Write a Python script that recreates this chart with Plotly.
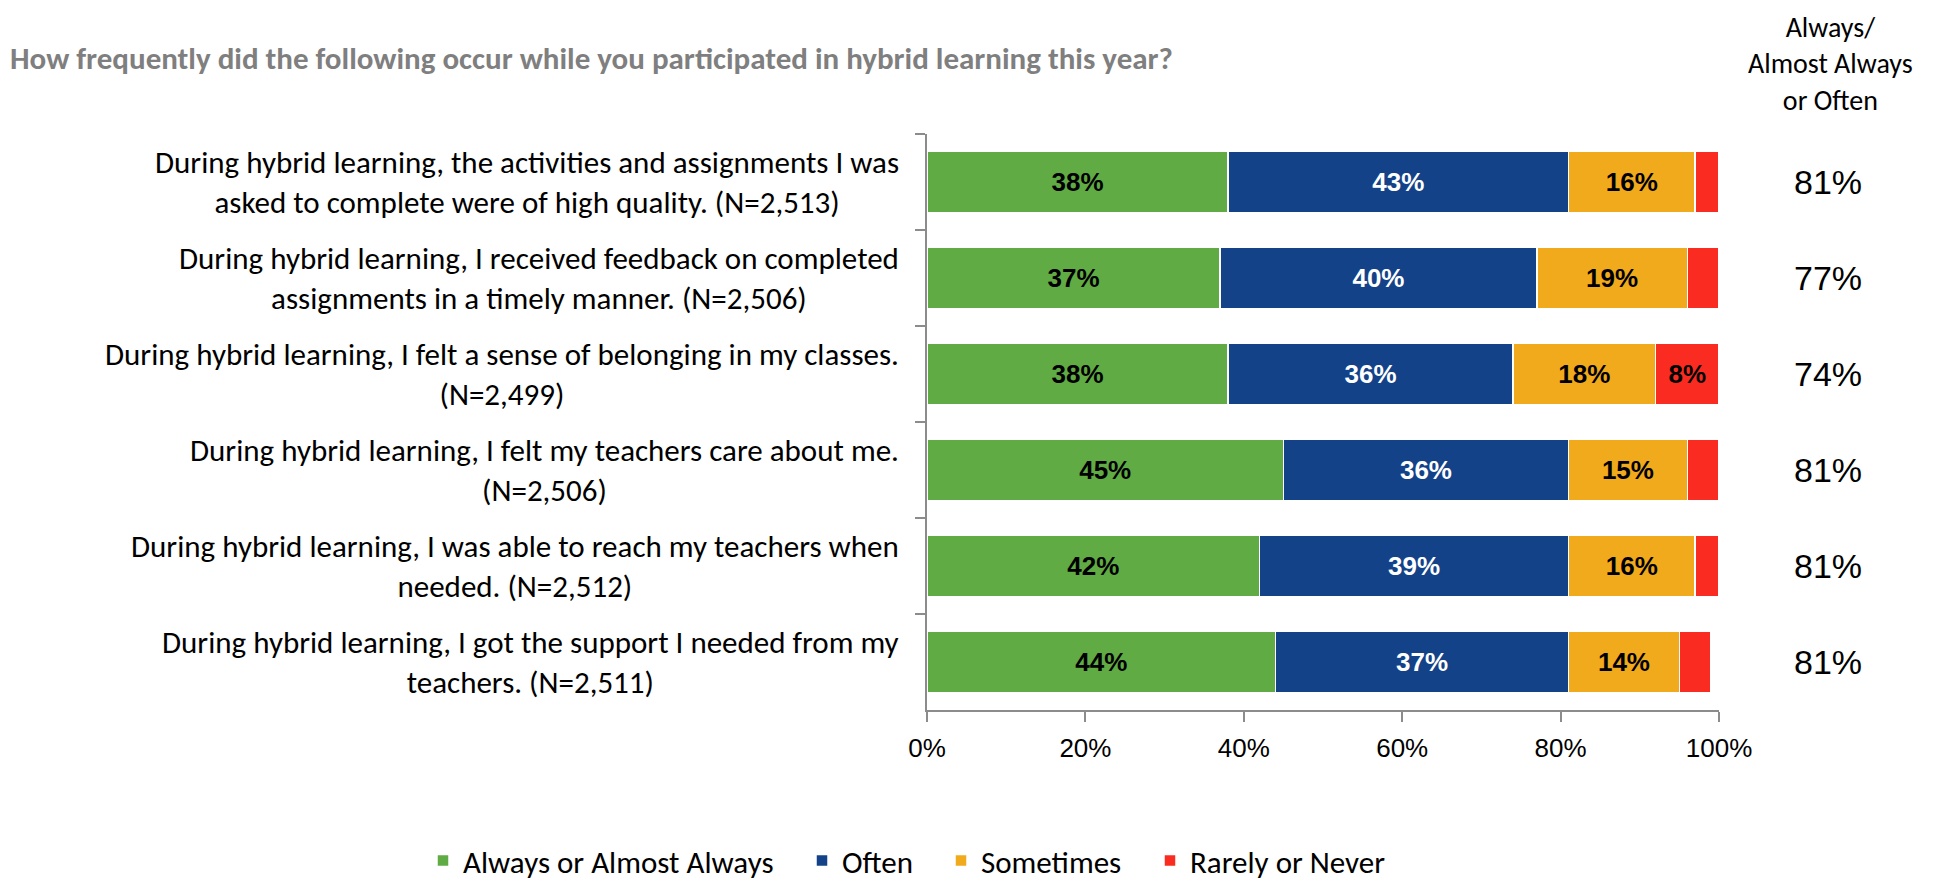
import plotly.graph_objects as go

categories = [
    "During hybrid learning, the activities and assignments I was<br>asked to complete were of high quality. (N=2,513)",
    "During hybrid learning, I received feedback on completed<br>assignments in a timely manner. (N=2,506)",
    "During hybrid learning, I felt a sense of belonging in my classes.<br>(N=2,499)",
    "During hybrid learning, I felt my teachers care about me.<br>(N=2,506)",
    "During hybrid learning, I was able to reach my teachers when<br>needed. (N=2,512)",
    "During hybrid learning, I got the support I needed from my<br>teachers. (N=2,511)",
]
always = [38, 37, 38, 45, 42, 44]
often = [43, 40, 36, 36, 39, 37]
sometimes = [16, 19, 18, 15, 16, 14]
rarely = [3, 4, 8, 4, 3, 4]

series_names = ["Always or Almost Always", "Often", "Sometimes", "Rarely or Never"]
series_values = [always, often, sometimes, rarely]
colors = ["#61AB45", "#134288", "#F0AA1C", "#FA2C22"]
label_colors = ["black", "white", "black", "black"]

title_text = "How frequently did the following occur while you participated in hybrid learning this year?"
right_header = "Always/<br>Almost Always<br>or Often"
x_ticks = [0, 0.2, 0.4, 0.6, 0.8, 1.0]

NARROW = "'Liberation Sans Narrow', 'Arial Narrow', Carlito, Calibri, 'Liberation Sans', Arial, sans-serif"
SANS = "'Liberation Sans', Arial, sans-serif"

# page body has an 8px margin, so the figure is drawn 8px smaller and offset
W, H = 1927, 872
L, T, PW, PH = 919, 126, 792, 576

# left edge (figure px) of each legend entry
legend_left_px = [415, 794, 933, 1142]
legend_ids = ["legend", "legend2", "legend3", "legend4"]

fig = go.Figure()
for name, vals, col, lc, lid in zip(series_names, series_values, colors, label_colors, legend_ids):
    fig.add_trace(go.Bar(
        name=name,
        y=categories,
        x=[v / 100 for v in vals],
        orientation="h",
        marker=dict(color=col, line=dict(color="white", width=1.5)),
        text=[f"{v}%" if v >= 5 else "" for v in vals],
        textposition="inside",
        insidetextanchor="middle",
        textangle=0,
        textfont=dict(family=SANS, size=26, color=lc, weight="bold"),
        hoverinfo="skip",
        legend=lid,
    ))

# Left category labels (centered lines, block right-aligned)
for cat in categories:
    fig.add_annotation(
        x=-0.0333, xref="paper", y=cat, yref="y",
        text=cat, showarrow=False, xanchor="right", yanchor="middle",
        align="center", font=dict(family=NARROW, size=31, color="black"),
    )

# Right column: Always/Almost Always or Often totals
for cat, a, o in zip(categories, always, often):
    fig.add_annotation(
        x=(1820 - L) / PW, xref="paper", y=cat, yref="y",
        text=f"{a + o}%", showarrow=False, xanchor="center", yanchor="middle",
        font=dict(family=SANS, size=34, color="black"),
    )

fig.add_annotation(
    x=(1822 - L) / PW, xref="paper", y=1 + T / PH, yref="paper",
    text=right_header, showarrow=False, xanchor="center", yanchor="top",
    align="center", font=dict(family=NARROW, size=28, color="black"),
)

legend_common = dict(
    orientation="h", yanchor="middle", y=-0.262, xanchor="left",
    font=dict(family=NARROW, size=31, color="black"),
    itemwidth=30, bgcolor="rgba(0,0,0,0)",
)
legends = {}
for lid, lx in zip(legend_ids, legend_left_px):
    legends[lid] = dict(legend_common, x=(lx - L) / PW)

fig.update_layout(
    width=W, height=H,
    margin=dict(l=L, r=W - L - PW, t=T, b=H - T - PH, autoexpand=False),
    barmode="stack",
    bargap=0.35,
    plot_bgcolor="white",
    paper_bgcolor="white",
    title=dict(
        text=f"<b>{title_text}</b>",
        x=2 / W, xanchor="left", xref="container",
        y=1 - 50 / H, yanchor="middle", yref="container",
        font=dict(family=NARROW, size=31, color="#7F7F7F"),
    ),
    showlegend=True,
    xaxis=dict(
        range=[0, 1], tickvals=x_ticks, tickformat=".0%",
        showgrid=False, zeroline=False,
        showline=True, linecolor="#8C8C8C", linewidth=1.5,
        ticks="outside", ticklen=10, tickwidth=1.5, tickcolor="#8C8C8C",
        tickfont=dict(family=SANS, size=26, color="black"),
        ticklabelstandoff=4,
    ),
    yaxis=dict(
        categoryorder="array", categoryarray=categories, autorange="reversed",
        showticklabels=False, showgrid=False, zeroline=False,
        showline=True, linecolor="#8C8C8C", linewidth=1.5,
        ticks="outside", ticklen=10, tickwidth=1.5, tickcolor="#8C8C8C",
        tickson="boundaries",
    ),
    **legends,
)

fig.write_html("out.html")
